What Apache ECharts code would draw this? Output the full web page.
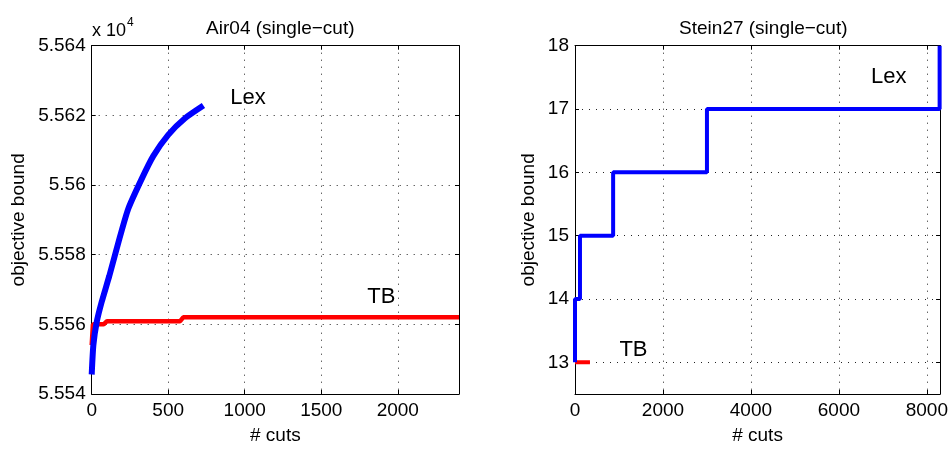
<!DOCTYPE html>
<html>
<head>
<meta charset="utf-8">
<script src="https://cdn.jsdelivr.net/npm/echarts@6/dist/echarts.min.js"></script>
<style>
html, body { margin: 0; padding: 0; background: #fff; }
#chart { width: 951px; height: 450px; }
</style>
</head>
<body>
<div id="chart"></div>
<script>
// Air04 (single-cut): objective bound vs # cuts
var airLexCuts = [0, 11, 33, 65, 115, 185, 239, 326, 402, 500, 608, 730];
var airLexBound = [55545.6, 55554.1, 55560.7, 55566.4, 55573.9, 55585.2, 55593.2, 55601.7, 55608.3, 55614.4, 55619.1, 55622.8];
var airTbCuts = [0, 8, 78, 100, 578, 598, 2400];
var airTbBound = [55554, 55560, 55560, 55560.9, 55560.9, 55562, 55562];

// Stein27 (single-cut), drawn as steps
var steinLexCuts = [0, 0, 113, 867, 3000, 8290];
var steinLexBound = [13, 14, 15, 16, 17, 18];
var steinTbCuts = [0, 340];
var steinTbBound = [13, 13];

// text labels next to the curves (data coords)
var airLabels = [['Lex', 1021, 55625], ['TB', 1892, 55567.8]];
var steinLabels = [['Lex', 7131, 17.5], ['TB', 1329, 13.19]];

var FONT = 'Liberation Sans';

function pairs(xs, ys) {
  var out = [];
  for (var i = 0; i < xs.length; i++) out.push([xs[i], ys[i]]);
  return out;
}

function labelPoints(list) {
  return list.map(function (l) {
    return {
      name: l[0], coord: [l[1], l[2]],
      symbol: 'rect', symbolSize: 1,
      itemStyle: { color: 'transparent' },
      label: { show: true, position: 'inside', formatter: '{b}', color: '#000', fontSize: 22, fontFamily: FONT }
    };
  });
}

var gridLine = { show: true, lineStyle: { color: '#222', width: 1, type: [1, 6] } };
var black = { color: '#000', width: 1 };

function mainX(grid, max, step, gap) {
  return {
    type: 'value', gridIndex: grid, min: 0, max: max, interval: step,
    name: '# cuts', nameLocation: 'middle', nameGap: gap,
    nameTextStyle: { color: '#000', fontSize: 19, fontFamily: FONT },
    axisLine: { show: true, lineStyle: black },
    axisTick: { show: true, inside: true, length: 4, lineStyle: black },
    axisLabel: {
      color: '#000', fontSize: 19, fontFamily: FONT, margin: 7,
      formatter: function (v) { return v % step === 0 ? String(v) : ''; }
    },
    splitLine: gridLine
  };
}

function sideAxis(grid, pos, base) {
  return {
    type: 'value', gridIndex: grid, position: pos,
    min: base.min, max: base.max, interval: base.interval,
    minInterval: base.minInterval, maxInterval: base.maxInterval,
    axisLine: { show: true, onZero: false, lineStyle: black },
    axisTick: { show: true, inside: true, length: 4, lineStyle: black },
    axisLabel: { show: false },
    splitLine: { show: false }
  };
}

var x0 = mainX(0, 2400, 500, 32);
var x1 = mainX(1, 8300, 2000, 32);

var y0 = {
  type: 'value', gridIndex: 0, min: 55540, max: 55640, interval: 20,
  name: 'objective bound', nameLocation: 'middle', nameGap: 63,
  nameTextStyle: { color: '#000', fontSize: 19, fontFamily: FONT },
  axisLine: { show: true, lineStyle: black },
  axisTick: { show: true, inside: true, length: 4, lineStyle: black },
  axisLabel: {
    color: '#000', fontSize: 19, fontFamily: FONT, margin: 6,
    formatter: function (v) { return String(v / 1e4); }
  },
  splitLine: gridLine
};

var y1 = {
  type: 'value', gridIndex: 1, min: 12.5, max: 18, minInterval: 1, maxInterval: 1,
  name: 'objective bound', nameLocation: 'middle', nameGap: 37,
  nameTextStyle: { color: '#000', fontSize: 19, fontFamily: FONT },
  axisLine: { show: true, lineStyle: black },
  axisTick: { show: true, inside: true, length: 4, lineStyle: black },
  axisLabel: {
    color: '#000', fontSize: 19, fontFamily: FONT, margin: 6,
    formatter: function (v) { return Number.isInteger(v) ? String(v) : ''; }
  },
  splitLine: gridLine
};

var option = {
  animation: false,
  backgroundColor: '#fff',
  textStyle: { fontFamily: FONT },
  title: [
    { text: 'Air04 (single\u2212cut)', left: 275.3, top: 14, textAlign: 'center',
      textStyle: { color: '#000', fontSize: 19, fontWeight: 'normal', fontFamily: FONT } },
    { text: 'Stein27 (single\u2212cut)', left: 758.3, top: 14, textAlign: 'center',
      textStyle: { color: '#000', fontSize: 19, fontWeight: 'normal', fontFamily: FONT } }
  ],
  graphic: [
    { type: 'text', left: 92, top: 22, style: { text: 'x 10', fontSize: 18, fontFamily: FONT, fill: '#000' } },
    { type: 'text', left: 127, top: 17, style: { text: '4', fontSize: 12, fontFamily: FONT, fill: '#000' } }
  ],
  grid: [
    { left: 91.7, top: 45.7, width: 367.3, height: 354.3 },
    { left: 575, top: 45.7, width: 366.7, height: 354.3 }
  ],
  xAxis: [x0, sideAxis(0, 'top', x0), x1, sideAxis(1, 'top', x1)],
  yAxis: [y0, sideAxis(0, 'right', y0), y1, sideAxis(1, 'right', y1)],
  series: [
    {
      name: 'TB', type: 'line', xAxisIndex: 0, yAxisIndex: 0,
      data: pairs(airTbCuts, airTbBound), showSymbol: false,
      lineStyle: { color: '#ff0000', width: 4.5 },
      markPoint: { data: labelPoints(airLabels.slice(1)) }
    },
    {
      name: 'Lex', type: 'line', xAxisIndex: 0, yAxisIndex: 0,
      data: pairs(airLexCuts, airLexBound), showSymbol: false, smooth: 0.2,
      lineStyle: { color: '#0000ff', width: 6 },
      markPoint: { data: labelPoints(airLabels.slice(0, 1)) }
    },
    {
      name: 'TB', type: 'line', xAxisIndex: 2, yAxisIndex: 2,
      data: pairs(steinTbCuts, steinTbBound), showSymbol: false,
      lineStyle: { color: '#ff0000', width: 4 },
      markPoint: { data: labelPoints(steinLabels.slice(1)) }
    },
    {
      name: 'Lex', type: 'line', xAxisIndex: 2, yAxisIndex: 2, step: 'end',
      data: pairs(steinLexCuts, steinLexBound), showSymbol: false,
      lineStyle: { color: '#0000ff', width: 4 },
      markPoint: { data: labelPoints(steinLabels.slice(0, 1)) }
    }
  ]
};

var chart = echarts.init(document.getElementById('chart'));
chart.setOption(option);
</script>
</body>
</html>
